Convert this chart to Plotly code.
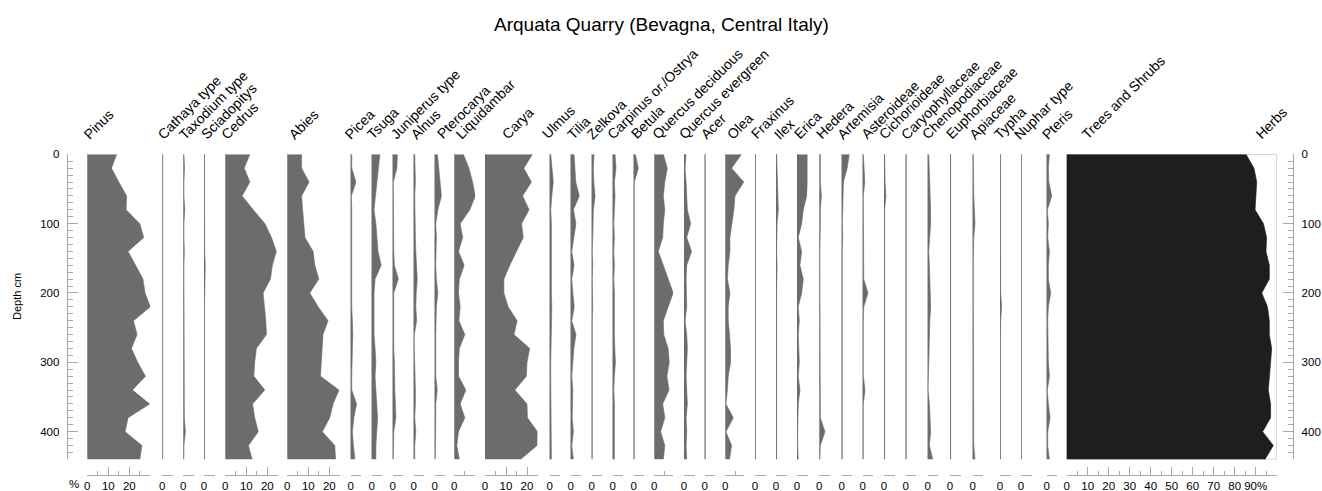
import plotly.graph_objects as go

W, H = 1322, 491

title = "Arquata Quarry (Bevagna, Central Italy)"

depths = [0, 20, 40, 60, 80, 100, 120, 140, 160, 180, 200, 220, 240, 260, 280, 300, 320, 340, 360, 380, 400, 420, 440]

taxa = ["Pinus", "Cathaya type", "Taxodium type", "Sciadopitys", "Cedrus", "Abies", "Picea", "Tsuga",
        "Juniperus type", "Alnus", "Pterocarya", "Liquidambar", "Carya", "Ulmus", "Tilia", "Zelkova",
        "Carpinus or./Ostrya", "Betula", "Quercus deciduous", "Quercus evergreen", "Acer", "Olea",
        "Fraxinus", "Ilex", "Erica", "Hedera", "Artemisia", "Asteroideae", "Cichorioideae",
        "Caryophyllaceae", "Chenopodiaceae", "Euphorbiaceae", "Apiaceae", "Typha", "Nuphar type",
        "Pteris", "Trees and Shrubs"]

pinus = [14, 11.5, 15, 18.7, 18.5, 25, 26.9, 19.4, 23, 26.5, 27.5, 30, 22, 23.7, 21, 24, 27.7, 21.5, 29.7, 19.4, 18, 26, 25]
cathaya = [0.2, 0.2, 0.2, 0.2, 0.4, 0.5, 0.3, 0.2, 0.2, 0.2, 0.2, 0.3, 0.5, 0.3, 0.2, 0.2, 0.2, 0.2, 0.2, 0.2, 0.2, 0.2, 0.2]
taxodium = [0.3, 0.6, 0.3, 0.3, 0.7, 0.3, 0.3, 0.5, 0.3, 0.3, 0.3, 0.5, 0.3, 0.3, 0.3, 0.6, 0.6, 0.3, 0.3, 0.5, 1.0, 0.3, 0.3]
sciadopitys = [0.2, 0.2, 0.2, 0.2, 0.2, 0.2, 0.2, 0.3, 0.6, 0.4, 0.2, 0.2, 0.2, 0.2, 0.2, 0.2, 0.2, 0.2, 0.2, 0.2, 0.5, 0.2, 0.2]
cedrus = [11.7, 9, 11.7, 8, 13.3, 18.9, 22, 24.3, 22.4, 21.5, 18, 18.8, 19.3, 19.6, 14.8, 14, 13.6, 18.8, 13, 14, 15.7, 11, 12.8]
abies = [6.8, 6.8, 10.4, 6.8, 7.3, 7.9, 8.4, 12.3, 13.1, 15, 10.7, 14.7, 19.4, 17, 16.7, 16.3, 15.8, 24.6, 21.8, 20.2, 16.7, 22.6, 23]
picea = [0.5, 0.5, 2.5, 0.3, 0.5, 0.5, 0.3, 0.5, 0.5, 0.3, 0.5, 0.5, 0.8, 1, 0.8, 0.5, 0.5, 0.5, 2.8, 1.5, 0.8, 1.3, 2]
tsuga = [3.9, 3.2, 2.4, 1.6, 1.1, 2, 2.4, 3, 4.5, 1.6, 1.1, 1, 0.9, 1.1, 1.6, 2, 1.6, 2, 2.4, 2.8, 2.4, 2, 2]
juniperus = [2.2, 2, 0.3, 0.3, 0.5, 0.5, 0.5, 0.5, 0.8, 2.7, 0.5, 0.5, 0.5, 0.3, 0.5, 0.8, 0.8, 1, 1.3, 1.5, 0.5, 0.3, 0.3]
alnus = [0.5, 0.8, 0.8, 0.5, 0.5, 0.6, 0.8, 1, 1.2, 1.7, 1.2, 1, 1.4, 0.3, 0.3, 0.5, 0.8, 0.8, 0.8, 0.5, 1, 0.5, 0.5]
pterocarya = [1.3, 2, 2.5, 3.2, 1.5, 0.5, 0.8, 0.5, 0.5, 0.8, 1.5, 0.8, 0.5, 0.5, 0.5, 0.5, 0.5, 1.2, 0.5, 0.5, 0.5, 0.3, 0.3]
liquidambar = [4.3, 7, 8.7, 10, 7.4, 2.8, 4, 2, 4.7, 2.4, 2, 2.8, 2.2, 5, 2.4, 2, 2, 5.5, 2.8, 5, 2, 1.2, 2.4]
carya = [22.6, 18.5, 22.1, 17.9, 21, 17.4, 18.2, 15, 11.8, 9, 9, 11, 15.3, 13.8, 21.3, 20, 19.7, 14.2, 20, 20.2, 25, 24.8, 16.9]
ulmus = [0.5, 1, 1.7, 1, 0.5, 0.8, 0.8, 0.5, 0.8, 0.8, 0.8, 1, 0.8, 0.8, 0.5, 0.5, 0.5, 0.5, 0.5, 0.5, 0.8, 0.8, 0.8]
tilia = [1.6, 2, 2.4, 4.1, 1.3, 2.5, 1.6, 0.5, 1.6, 0.5, 1, 1.7, 0.5, 2.5, 1.5, 1, 0.5, 1, 1, 0.7, 1.3, 0.5, 1.3]
zelkova = [1.1, 0.8, 1, 1.6, 0.8, 0.5, 0.5, 0.3, 0.5, 0.3, 0.5, 0.5, 0.3, 0.3, 0.3, 0.5, 0.3, 0.3, 0.3, 0.3, 0.3, 0.3, 0.3]
carpinus = [1.1, 1.6, 0.8, 1.1, 0.8, 0.5, 0.8, 0.5, 0.8, 0.5, 0.8, 0.8, 0.5, 0.8, 1, 1.3, 0.8, 0.5, 0.8, 0.8, 0.5, 0.8, 0.8]
betula = [0.8, 2.2, 0.3, 0.3, 0.4, 0.3, 0.3, 0.5, 0.3, 0.3, 0.4, 0.3, 0.3, 0.3, 0.3, 0.4, 0.3, 0.3, 0.3, 0.5, 0.3, 0.3, 0.3]
quercus_dec = [4.3, 6.2, 5, 4.3, 5, 4.3, 4, 1.9, 4.3, 6.6, 9, 6.6, 4.3, 4.5, 6.6, 7.1, 6, 7, 4, 5, 3, 5, 4.3]
quercus_ev = [1, 0.5, 1, 1.3, 1.6, 3.2, 1.3, 3.6, 1.3, 1, 1, 1.3, 0.5, 1.3, 1.6, 1.3, 1, 1.3, 1.6, 1, 1.3, 1, 1.3]
acer = [0.3, 0.3, 0.3, 0.3, 0.3, 0.3, 0.3, 0.3, 0.3, 0.3, 0.5, 0.3, 0.3, 0.3, 0.5, 0.3, 0.3, 0.3, 0.3, 0.3, 0.3, 0.3, 0.3]
olea = [7.7, 3, 8.8, 4.6, 4.1, 3, 2.2, 2.2, 1.4, 1, 2.2, 1.4, 1.4, 2, 2.5, 2.5, 1.4, 1, 0.3, 3.8, 0.3, 3, 2]
fraxinus = [0.2, 0.2, 0.2, 0.2, 0.2, 0.2, 0.2, 0.2, 0.2, 0.2, 0.2, 0.2, 0.2, 0.2, 0.2, 0.2, 0.2, 0.2, 0.2, 0.2, 0.2, 0.2, 0.2]
ilex = [0.3, 0.5, 0.5, 0.8, 1.1, 0.5, 0.3, 0.3, 0.5, 0.3, 0.3, 0.3, 0.3, 0.3, 0.3, 0.5, 0.3, 0.3, 0.3, 0.3, 0.3, 0.3, 0.3]
erica = [5, 5, 5, 4.6, 3, 2.2, 0.6, 2.2, 1.4, 3, 2.2, 0.6, 1.1, 0.6, 0.8, 1.1, 0.6, 1.4, 0.6, 0.3, 0.3, 0.3, 0.6]
hedera = [0.5, 0.5, 0.5, 1, 0.5, 0.5, 0.3, 0.3, 0.3, 0.3, 0.3, 0.3, 0.3, 0.3, 0.3, 0.3, 0.3, 0.3, 0.3, 0.5, 2.7, 0.5, 0.3]
artemisia = [3.6, 2.6, 0.8, 0.5, 0.5, 0.3, 0.5, 0.3, 0.3, 0.3, 0.3, 0.3, 0.3, 0.3, 0.3, 0.3, 0.3, 0.3, 0.3, 0.3, 0.3, 0.3, 0.3]
asteroideae = [0.3, 0.8, 1, 0.3, 0.3, 0.3, 0.3, 0.3, 0.3, 0.5, 2.5, 0.5, 0.3, 0.3, 0.3, 0.3, 0.3, 1.1, 0.3, 0.3, 0.3, 0.3, 0.3]
cichorioideae = [0.3, 0.3, 0.5, 0.9, 0.3, 0.3, 0.3, 0.3, 0.3, 0.3, 0.3, 0.3, 0.3, 0.3, 0.3, 0.3, 0.3, 0.3, 0.3, 0.3, 0.3, 0.5, 0.3]
caryophyllaceae = [0.3, 0.3, 0.3, 0.4, 0.3, 0.3, 0.3, 0.3, 0.3, 0.3, 0.3, 0.3, 0.3, 0.3, 0.3, 0.3, 0.3, 0.3, 0.3, 0.3, 0.3, 0.3, 0.3]
chenopodiaceae = [0.5, 0.8, 0.8, 1.4, 1.4, 1.4, 1, 0.5, 0.8, 1, 1.2, 1.4, 1, 0.8, 0.8, 0.5, 0.5, 0.2, 0.8, 1.2, 1.4, 0.8, 2.4]
euphorbiaceae = [0.3, 0.3, 0.3, 0.3, 0.3, 0.3, 0.3, 0.3, 0.3, 0.3, 0.3, 0.3, 0.3, 0.3, 0.3, 0.3, 0.3, 0.3, 0.3, 0.3, 0.3, 0.3, 0.3]
apiaceae = [0.3, 0.3, 0.3, 0.5, 0.8, 1.1, 0.5, 0.3, 0.3, 0.3, 0.3, 0.3, 0.3, 0.3, 0.3, 0.3, 0.3, 0.3, 0.3, 0.3, 0.3, 0.5, 1.1]
typha = [0.2, 0.2, 0.2, 0.2, 0.2, 0.2, 0.2, 0.2, 0.2, 0.2, 0.3, 0.8, 0.3, 0.2, 0.2, 0.2, 0.2, 0.2, 0.2, 0.2, 0.4, 0.2, 0.2]
nuphar = [0.15, 0.15, 0.15, 0.15, 0.15, 0.15, 0.15, 0.15, 0.15, 0.15, 0.15, 0.15, 0.15, 0.15, 0.15, 0.15, 0.15, 0.15, 0.15, 0.15, 0.15, 0.15, 0.15]
pteris = [1.3, 0.8, 1, 2.4, 0.3, 0.8, 0.5, 1.3, 0.8, 0.8, 1.9, 0.8, 0.5, 0.5, 0.8, 0.8, 1.3, 0.3, 0.8, 1.6, 0.5, 0.5, 1.3]
trees_shrubs = [85.4, 89.2, 90.5, 90.2, 89.7, 93.7, 95.2, 94.9, 96.5, 96.5, 92.9, 95.6, 96.5, 96.5, 97.6, 97.1, 96.5, 96, 97.1, 97.1, 93.3, 98.4, 94.4]

series = [pinus, cathaya, taxodium, sciadopitys, cedrus, abies, picea, tsuga, juniperus, alnus,
          pterocarya, liquidambar, carya, ulmus, tilia, zelkova, carpinus, betula, quercus_dec,
          quercus_ev, acer, olea, fraxinus, ilex, erica, hedera, artemisia, asteroideae,
          cichorioideae, caryophyllaceae, chenopodiaceae, euphorbiaceae, apiaceae, typha, nuphar,
          pteris, trees_shrubs]

# axis maxima (%) of each panel
axis_max = [30, 5, 5, 5, 25, 25, 5, 5, 5, 5, 5, 10, 25, 5, 5, 5, 5, 5, 9, 5, 5, 9, 5, 5, 5, 5, 5, 5,
            5, 5, 5, 5, 5, 5, 5, 5, 100]

# ---- layout geometry (pixels) ----
panel_left = [87.3, 162.3, 183.3, 204, 225.3, 287.3, 350.7, 371.7, 392.7, 413.7, 434.7, 454.3, 485,
              549.7, 570.7, 591.7, 612.7, 633.7, 654.3, 684, 704.7, 725.3, 755, 776, 797, 819.3,
              841.7, 862.7, 884, 905.7, 927.7, 950, 972.7, 1000, 1021, 1046.7, 1066.7]
label_left = [83, 157, 178, 200, 220, 288, 344, 366, 390, 410, 436, 455, 501, 541, 566, 586, 606,
              630, 651, 678, 700, 726, 750, 773, 793, 815, 836, 860, 878, 900, 921, 945, 968, 993,
              1013, 1041, 1081]
PX_PER_PCT = 2.1
Y_TOP, Y_BOT = 154.3, 459.4
X_AXIS_Y = 475
LABEL_BOTTOM = 145
LABEL_DX = -5

GRAY = "#6c6c6c"
DARK = "#1e1e1e"
AXC = "#a8a8a8"
FONT = "Liberation Sans, Arial, sans-serif"
TICKFONT = dict(size=11.5, color="black", family=FONT)

fig = go.Figure()
layout = dict(
    width=W, height=H, margin=dict(l=0, r=0, t=0, b=0),
    paper_bgcolor="white", plot_bgcolor="rgba(0,0,0,0)", showlegend=False,
    font=dict(family=FONT, size=12, color="black"),
)

for i, (name, vals, amax, px0) in enumerate(zip(taxa, series, axis_max, panel_left)):
    k = i + 1
    xa = "x" if k == 1 else f"x{k}"
    key = "xaxis" if k == 1 else f"xaxis{k}"
    is_total = name == "Trees and Shrubs"
    fig.add_trace(go.Scatter(
        x=vals, y=depths, xaxis=xa, yaxis="y", mode="lines",
        fill="tozerox", fillcolor=DARK if is_total else GRAY,
        line=dict(color=DARK if is_total else GRAY, width=0.6),
        hoverinfo="skip",
    ))
    if is_total:
        tv = list(range(0, 101, 10))
        tt = [str(v) for v in range(0, 81, 10)] + ["90%", ""]
    elif amax >= 25:
        tv = list(range(0, int(amax) + 1, 10))
        tt = [str(v) if v <= 20 else "" for v in tv]
    else:
        tv = list(range(0, int(amax) + 1, 10))
        tt = ["0"] + ["" for _ in tv[1:]]
    layout[key] = dict(
        domain=[px0 / W, (px0 + amax * PX_PER_PCT) / W],
        range=[0, amax], anchor="free", position=1 - X_AXIS_Y / H,
        showline=True, linecolor=AXC, linewidth=1,
        ticks="inside", ticklen=8, tickcolor=AXC, tickwidth=1,
        tickmode="array", tickvals=tv, ticktext=tt, tickangle=0,
        tickfont=TICKFONT,
        minor=dict(tickmode="linear", tick0=0, dtick=5, ticks="inside", ticklen=4,
                   tickcolor=AXC, showgrid=False),
        showgrid=False, zeroline=True, zerolinecolor="#bdbdbd", zerolinewidth=1,
        fixedrange=True, automargin=False,
    )

# invisible trace for right depth axis
fig.add_trace(go.Scatter(x=[None], y=[None], xaxis="x37", yaxis="y2", mode="markers",
                         showlegend=False, hoverinfo="skip"))

ydom = [1 - Y_BOT / H, 1 - Y_TOP / H]
ycommon = dict(
    domain=ydom, range=[440, 0], anchor="free", showline=True, linecolor=AXC, linewidth=1,
    ticks="inside", ticklen=10, tickcolor=AXC, tickmode="array",
    tickvals=[0, 100, 200, 300, 400], ticktext=["0", "100", "200", "300", "400"],
    tickfont=TICKFONT, ticklabelstandoff=5,
    minor=dict(tickmode="linear", tick0=0, dtick=10, ticks="inside", ticklen=5,
               tickcolor=AXC, showgrid=False),
    showgrid=False, zeroline=False, fixedrange=True, automargin=False,
)
layout["yaxis"] = dict(ycommon, side="left", position=66.7 / W)
layout["yaxis2"] = dict(ycommon, side="right", position=1293.3 / W, overlaying="y")

# frame around total panel
shapes = [dict(type="rect", xref="x37", yref="y", x0=0, x1=100, y0=0, y1=440,
               line=dict(color="#bdbdbd", width=1), layer="below")]

annotations = [
    dict(text=title, x=661 / W, y=1 - 24 / H, xref="paper", yref="paper",
         showarrow=False, font=dict(size=19, color="black", family=FONT),
         xanchor="center", yanchor="middle"),
    dict(text="Depth cm", x=17 / W, y=1 - 297 / H, xref="paper", yref="paper",
         showarrow=False, textangle=-90, font=dict(size=11, color="black", family=FONT),
         xanchor="center", yanchor="middle"),
    dict(text="%", x=74 / W, y=1 - 484 / H, xref="paper", yref="paper",
         showarrow=False, font=dict(size=11.5, color="black", family=FONT),
         xanchor="center", yanchor="middle"),
]
labels = taxa + ["Herbs"]
lefts = label_left + [1255]
for name, lx in zip(labels, lefts):
    annotations.append(dict(
        text=name, x=(lx + LABEL_DX) / W, y=1 - LABEL_BOTTOM / H, xref="paper", yref="paper",
        showarrow=False, textangle=-45, xanchor="left", yanchor="bottom",
        font=dict(size=14, color="black", family=FONT),
    ))

layout["shapes"] = shapes
layout["annotations"] = annotations
fig.update_layout(**layout)
fig.write_html("out.html", config={"displayModeBar": False},
               post_script="document.body.style.margin='0px';document.body.style.overflow='hidden';")
